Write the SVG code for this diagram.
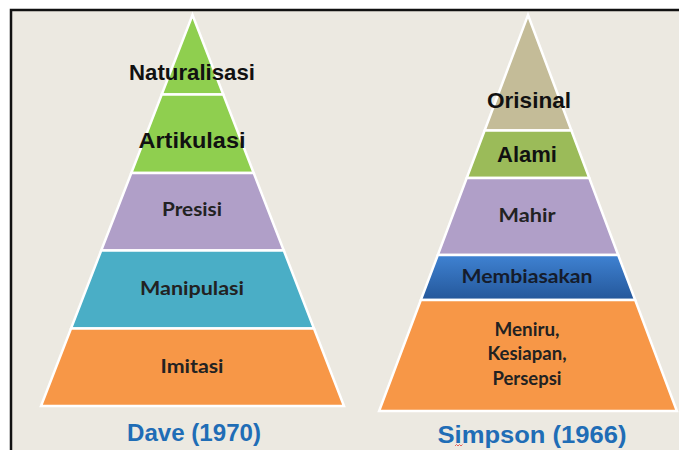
<svg xmlns="http://www.w3.org/2000/svg" width="679" height="450" viewBox="0 0 679 450">
  <defs>
    <linearGradient id="blueBand" x1="0" y1="0" x2="0" y2="1">
      <stop offset="0" stop-color="#3f82d2"/>
      <stop offset="1" stop-color="#24579a"/>
    </linearGradient>
    <style>
      .layer { stroke: #ffffff; stroke-width: 2.5; stroke-linejoin: miter; }
      .arial { font-family: "Liberation Sans", Arial, sans-serif; font-weight: bold; font-size: 22px; fill: #111111; text-anchor: middle; }
      .soft { font-family: Lato, "Open Sans", sans-serif; font-weight: bold; font-size: 18px; fill: #222222; text-anchor: middle; }
      .title { font-family: "Liberation Sans", Arial, sans-serif; font-weight: bold; font-size: 23px; fill: #1f6db6; text-anchor: middle; }
    </style>
  </defs>

  <!-- page and slide frame -->
  <rect x="0" y="0" width="679" height="450" fill="#ffffff"/>
  <rect x="11" y="10" width="700" height="460" fill="#ece9e1" stroke="#111111" stroke-width="2.5"/>

  <!-- Dave (1970) pyramid -->
  <g id="dave-naturalisasi">
    <polygon class="layer" fill="#8fcf4f" points="192.5,15 223.3,94.5 161.7,94.5"/>
    <text class="arial" x="192" y="80" textLength="126" lengthAdjust="spacingAndGlyphs">Naturalisasi</text>
  </g>
  <g id="dave-artikulasi">
    <polygon class="layer" fill="#8fcf4f" points="161.7,94.5 223.3,94.5 253.7,173 131.3,173"/>
    <text class="arial" x="192" y="148" textLength="107" lengthAdjust="spacingAndGlyphs">Artikulasi</text>
  </g>
  <g id="dave-presisi">
    <polygon class="layer" fill="#b09fc8" points="131.3,173 253.7,173 283.8,250.5 101.2,250.5"/>
    <text class="soft" x="192" y="216" textLength="60" lengthAdjust="spacingAndGlyphs">Presisi</text>
  </g>
  <g id="dave-manipulasi">
    <polygon class="layer" fill="#4aaec6" points="101.2,250.5 283.8,250.5 314,328.5 71,328.5"/>
    <text class="soft" x="192" y="295" textLength="104" lengthAdjust="spacingAndGlyphs">Manipulasi</text>
  </g>
  <g id="dave-imitasi">
    <polygon class="layer" fill="#f79747" points="71,328.5 314,328.5 344,406 41,406"/>
    <text class="soft" x="192" y="373" textLength="63" lengthAdjust="spacingAndGlyphs">Imitasi</text>
  </g>
  <g id="dave-title">
    <text class="title" x="194" y="441" textLength="134" lengthAdjust="spacingAndGlyphs">Dave (1970)</text>
  </g>

  <!-- Simpson (1966) pyramid -->
  <g id="simpson-orisinal">
    <polygon class="layer" fill="#c4bc98" points="528,15 571.4,130.5 484.6,130.5"/>
    <text class="arial" x="529" y="108" textLength="84" lengthAdjust="spacingAndGlyphs">Orisinal</text>
  </g>
  <g id="simpson-alami">
    <polygon class="layer" fill="#9bbb59" points="484.6,130.5 571.4,130.5 589.3,178 466.7,178"/>
    <text class="arial" x="527" y="162" textLength="60" lengthAdjust="spacingAndGlyphs">Alami</text>
  </g>
  <g id="simpson-mahir">
    <polygon class="layer" fill="#b09fc8" points="466.7,178 589.3,178 618.2,255 437.8,255"/>
    <text class="soft" x="527" y="222" textLength="57" lengthAdjust="spacingAndGlyphs">Mahir</text>
  </g>
  <g id="simpson-membiasakan">
    <polygon class="layer" fill="url(#blueBand)" points="437.8,255 618.2,255 635.2,300 420.8,300"/>
    <text class="soft" x="527" y="283" textLength="131" lengthAdjust="spacingAndGlyphs" style="fill:#151c2c">Membiasakan</text>
  </g>
  <g id="simpson-meniru">
    <polygon class="layer" fill="#f79747" points="420.8,300 635.2,300 676.9,411 379.1,411"/>
    <text class="soft" x="527" y="336" textLength="65" lengthAdjust="spacingAndGlyphs">Meniru,</text>
    <text class="soft" x="527" y="360" textLength="79" lengthAdjust="spacingAndGlyphs">Kesiapan,</text>
    <text class="soft" x="527" y="385" textLength="69" lengthAdjust="spacingAndGlyphs">Persepsi</text>
  </g>
  <g id="simpson-title">
    <text class="title" x="532" y="443" textLength="189" lengthAdjust="spacingAndGlyphs" style="font-size:24px">Simpson (1966)</text>
    <path d="M455,446 l1.5,-1.5 l1.5,1.5 l1.5,-1.5 l1.5,1.5 l1.5,-1.5" fill="none" stroke="#e0403a" stroke-width="0.8"/>
  </g>

  <!-- connectors: none, the layers stack edge to edge -->
  <g id="connectors"/>
</svg>
